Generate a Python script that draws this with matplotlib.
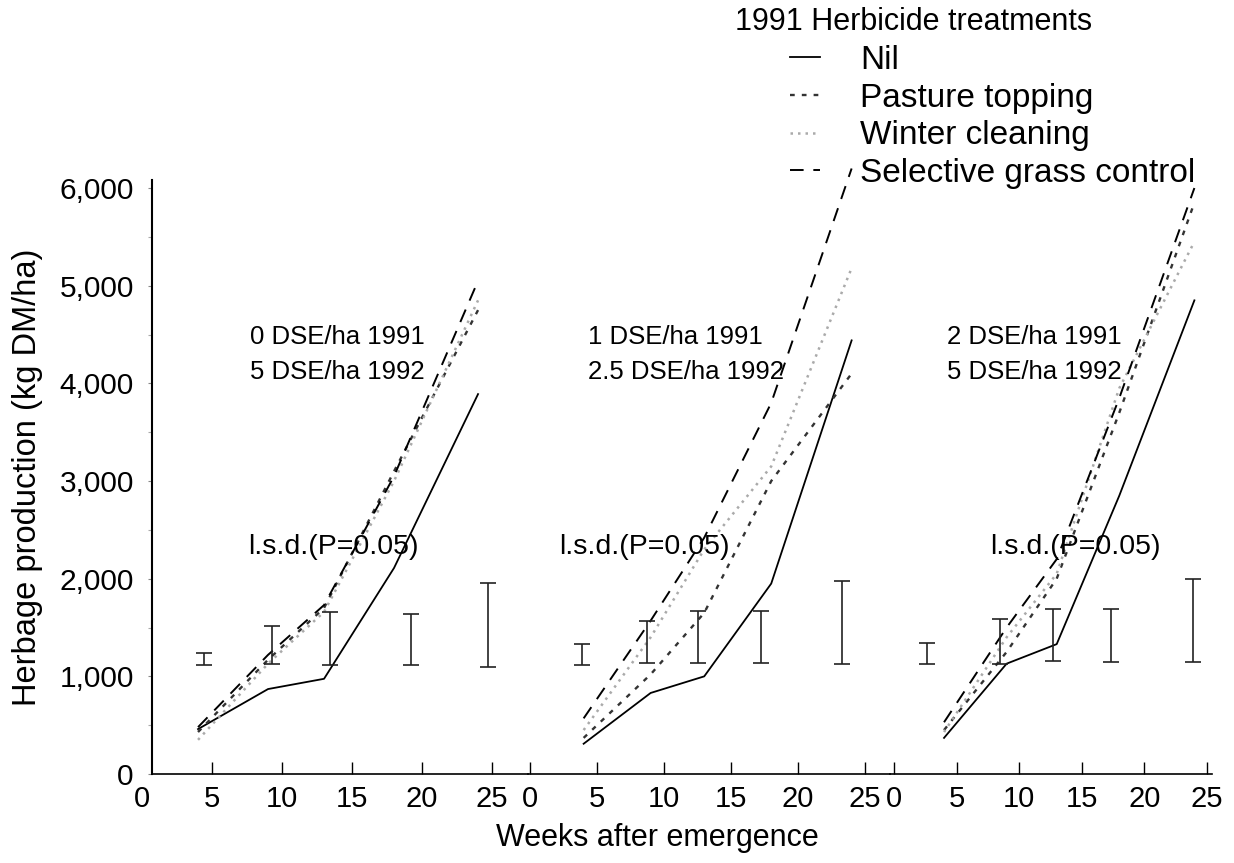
import numpy as np
import matplotlib
matplotlib.use("Agg")
import matplotlib.pyplot as plt
from matplotlib.lines import Line2D

plt.rcParams['font.family'] = ['Liberation Sans', 'DejaVu Sans']

# sampling weeks after emergence
weeks = [4, 9, 13, 18, 24]

# herbage production (kg DM/ha), one set per stocking rate
nil_0 = [460, 870, 975, 2110, 3890]
pasture_0 = [430, 1170, 1700, 3100, 4750]
winter_0 = [350, 1130, 1660, 3000, 4850]
selective_0 = [480, 1220, 1730, 3050, 5050]

nil_1 = [310, 830, 1000, 1950, 4440]
pasture_1 = [370, 1020, 1650, 3000, 4100]
winter_1 = [450, 1400, 2300, 3150, 5180]
selective_1 = [570, 1570, 2420, 3800, 6200]

nil_2 = [370, 1130, 1330, 2850, 4850]
pasture_2 = [450, 1250, 2000, 3700, 5850]
winter_2 = [430, 1400, 2050, 3950, 5450]
selective_2 = [530, 1500, 2200, 3850, 6000]

# l.s.d. bars (bottom and top)
lsd_x_0 = [4.4, 9.3, 13.4, 19.2, 24.7]
lsd_lo_0 = [1120, 1130, 1120, 1120, 1100]
lsd_hi_0 = [1240, 1520, 1660, 1640, 1960]
lsd_x_1 = [3.9, 8.7, 12.5, 17.2, 23.3]
lsd_lo_1 = [1120, 1140, 1140, 1140, 1130]
lsd_hi_1 = [1330, 1570, 1670, 1670, 1980]
lsd_x_2 = [2.6, 8.5, 12.7, 17.3, 23.9]
lsd_lo_2 = [1130, 1130, 1160, 1150, 1150]
lsd_hi_2 = [1340, 1590, 1690, 1690, 2000]

rates_91 = ['0 DSE/ha 1991', '1 DSE/ha 1991', '2 DSE/ha 1991']
rates_92 = ['5 DSE/ha 1992', '2.5 DSE/ha 1992', '5 DSE/ha 1992']
treatments = ['Nil', 'Pasture topping', 'Winter cleaning', 'Selective grass control']

styles = [
    dict(color='black', lw=1.3, ls='-'),
    dict(color='#333333', lw=1.7, ls=(0, (2, 3))),
    dict(color='#aaaaaa', lw=1.8, ls=(0, (1, 2))),
    dict(color='black', lw=1.4, ls=(0, (7, 5))),
]

panels = [
    (nil_0, pasture_0, winter_0, selective_0, lsd_x_0, lsd_lo_0, lsd_hi_0),
    (nil_1, pasture_1, winter_1, selective_1, lsd_x_1, lsd_lo_1, lsd_hi_1),
    (nil_2, pasture_2, winter_2, selective_2, lsd_x_2, lsd_lo_2, lsd_hi_2),
]

fig = plt.figure(figsize=(12.34, 8.63), dpi=100)

# axes boxes in figure fractions and x limits of each panel
boxes = [(0.1151, 0.3128), (0.4279, 0.2934), (0.7212, 0.2609)]
xlims = [(0, 27.57), (-0.15, 26.87), (-0.32, 25.4)]
rate_x = [7.7, 4.3, 4.2]
lsd_text_x = [7.6, 2.2, 7.7]

bottom, height = 0.1031, 0.6883
axes = []
for i, (box, xl) in enumerate(zip(boxes, xlims)):
    ax = fig.add_axes([box[0], bottom, box[1], height])
    axes.append(ax)
    nil, pas, win, sel, lx, llo, lhi = panels[i]
    for vals, st in zip([nil, pas, win, sel], styles):
        ax.plot(weeks, vals, clip_on=False, **st)
    llo = np.array(llo)
    lhi = np.array(lhi)
    ax.errorbar(lx, (llo + lhi) / 2, yerr=(lhi - llo) / 2, fmt='none',
                ecolor='#222222', elinewidth=1.2, capsize=6, capthick=1.2)

    ax.text(rate_x[i], 4474, rates_91[i], fontsize=18.5, va='center')
    ax.text(rate_x[i], 4116, rates_92[i], fontsize=18.5, va='center')
    ax.text(lsd_text_x[i], 2324, 'l.s.d.(P=0.05)', fontsize=20.5, va='center')

    ax.set_xlim(*xl)
    ax.set_ylim(0, 6082)
    ax.set_xticks([0, 5, 10, 15, 20, 25])
    ax.tick_params(axis='x', direction='in', length=9, width=1, pad=8,
                   labelsize=21)
    for s in ['top', 'right']:
        ax.spines[s].set_visible(False)
    ax.spines['bottom'].set_linewidth(1.2)
    if i == 0:
        ax.spines['left'].set_position(('data', 0.7))
        ax.spines['left'].set_linewidth(1.5)
        ax.spines['bottom'].set_bounds(0.7, xl[1])
        ax.xaxis.get_major_ticks()[0].tick1line.set_visible(False)
        ax.set_yticks(np.arange(0, 6001, 1000))
        ax.set_yticks(np.arange(500, 6000, 1000), minor=True)
        ax.set_yticklabels([f'{v:,}' for v in range(0, 6001, 1000)])
        ax.tick_params(axis='y', direction='out', length=3, width=0.8,
                       color='#888888', pad=10, labelsize=21.5)
        ax.tick_params(axis='y', which='minor', direction='out', length=3,
                       width=0.8, color='#aaaaaa')
        ax.set_ylabel('Herbage production (kg DM/ha)', fontsize=23.5,
                      labelpad=12)
    else:
        ax.spines['left'].set_visible(False)
        ax.set_yticks([])
    ax.patch.set_alpha(0)

fig.text(0.533, 0.029, 'Weeks after emergence', fontsize=22,
         ha='center', va='center')

fig.text(735 / 1234, 1 - 22 / 863, '1991 Herbicide treatments', fontsize=22,
         ha='left', va='center')
handles = [Line2D([], [], **st) for st in styles]
fig.legend(handles, treatments, loc='upper left',
           bbox_to_anchor=(0.640, 0.948), frameon=False, fontsize=24,
           handlelength=0.9, handletextpad=1.2, labelspacing=0.2,
           borderpad=0, borderaxespad=0)

fig.savefig('out.png', dpi=100, facecolor='white')
